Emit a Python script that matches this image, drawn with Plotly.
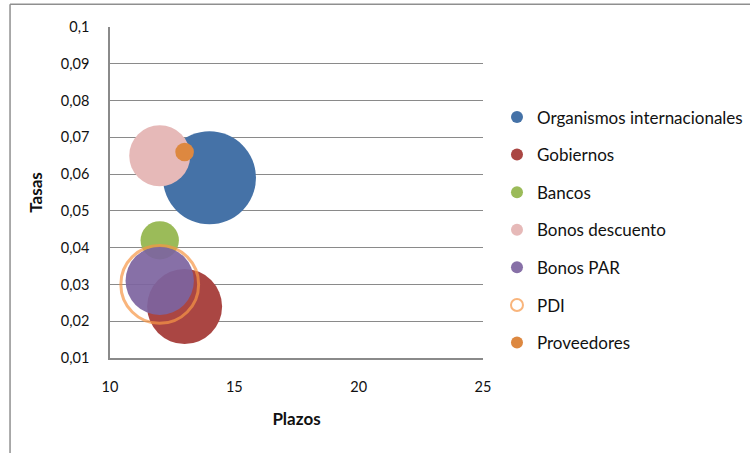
import plotly.graph_objects as go

# ---- data ----
series = ["Organismos internacionales", "Gobiernos", "Bancos", "Bonos descuento",
          "Bonos PAR", "PDI", "Proveedores"]
plazos = [14, 13, 12, 12, 12, 12, 13]
tasas = [0.059, 0.024, 0.042, 0.065, 0.031, 0.030, 0.066]
montos = [100, 65, 17, 43, 54, 70, 4]

y_tickvals = [0.01, 0.02, 0.03, 0.04, 0.05, 0.06, 0.07, 0.08, 0.09, 0.1]
y_ticktext = ["0,01", "0,02", "0,03", "0,04", "0,05", "0,06", "0,07", "0,08", "0,09", "0,1"]
x_tickvals = [10, 15, 20, 25]
x_ticktext = ["10", "15", "20", "25"]

# ---- styles ----
colors = ["#4572A7", "#AA4643", "#9BBB59", "#E6B9B8", "#7D64A0", "#F79646", "#DD8840"]
FONT = "Lato, 'Open Sans', sans-serif"
max_px = 93
sizeref = 2.0 * max(montos) / (max_px ** 2)

fig = go.Figure()
for i, name in enumerate(series):
    if name == "PDI":
        marker = dict(size=[montos[i]], sizemode="area", sizeref=sizeref,
                      color="rgba(0,0,0,0)", line=dict(color=colors[i], width=3))
    else:
        marker = dict(size=[montos[i]], sizemode="area", sizeref=sizeref,
                      color=colors[i], line=dict(width=0),
                      opacity=0.92 if name == "Bonos PAR" else 1)
    fig.add_trace(go.Scatter(
        x=[plazos[i]], y=[tasas[i]], mode="markers", name=name,
        marker=marker, legendgroup=name, cliponaxis=False,
    ))

frame_color = "#8f8f8f"
fig.update_layout(
    width=750, height=453,
    margin=dict(l=110, r=267, t=27, b=95, autoexpand=False),
    paper_bgcolor="white", plot_bgcolor="white",
    font=dict(family=FONT, size=14.5, color="#111"),
    showlegend=True,
    legend=dict(x=1.0375, xanchor="left", y=0.387, yanchor="middle",
                itemsizing="constant", tracegroupgap=12.5,
                font=dict(family=FONT, size=17, color="#111"),
                bgcolor="rgba(0,0,0,0)"),
    xaxis=dict(range=[10, 25], tickvals=x_tickvals, ticktext=x_ticktext,
               showgrid=False, zeroline=False, showline=True,
               linecolor="#8a8a8a", linewidth=1.5, ticks="",
               ticklabelstandoff=15,
               title=dict(text="<b>Plazos</b>", font=dict(size=17), standoff=19)),
    yaxis=dict(range=[0.01, 0.1], tickvals=y_tickvals, ticktext=y_ticktext,
               showgrid=True, gridcolor="#8a8a8a", gridwidth=1,
               zeroline=False, showline=True, linecolor="#8a8a8a", linewidth=1.5,
               ticks="", ticklabelstandoff=16,
               title=dict(text="<b>Tasas</b>", font=dict(size=17), standoff=14)),
    shapes=[
        dict(type="line", xref="paper", yref="paper", x0=-0.268, x1=2.0,
             y0=1.0686, y1=1.0686, line=dict(color=frame_color, width=1.5)),
        dict(type="line", xref="paper", yref="paper", x0=-0.268, x1=-0.268,
             y0=1.0686, y1=-1.0, line=dict(color=frame_color, width=1.5)),
    ],
)

fig.write_html("out.html", config={"displayModeBar": False},
               post_script="document.body.style.margin='0px';document.body.style.overflow='hidden';")
